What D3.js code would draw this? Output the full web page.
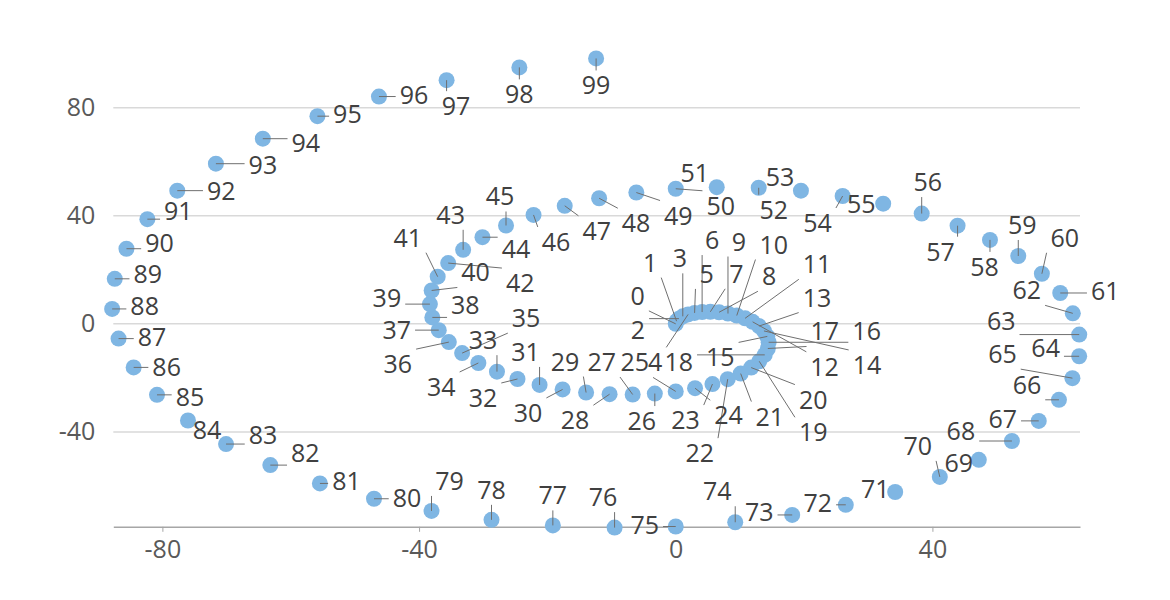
<!DOCTYPE html>
<html><head><meta charset="utf-8">
<script src="https://cdn.jsdelivr.net/npm/d3@7"></script>
<style>body{margin:0;background:#fff}svg{display:block}</style>
</head><body><svg id="c" width="1170" height="600"></svg>
<script>
const xValues = [0, 0.13, 0.50, 1.10, 1.93, 2.94, 4.11, 5.39, 6.75, 8.14,
  9.51, 10.81, 11.98, 12.97, 13.75, 14.27, 14.48, 14.35, 13.87, 13.01,
  11.76, 10.12, 8.10, 5.72, 3.01, 0, -3.26, -6.71, -10.31, -13.97,
  -17.63, -21.22, -24.66, -27.86, -30.76, -33.29, -35.36, -36.93, -37.93, -38.31,
  -38.04, -37.10, -35.46, -33.13, -30.12, -26.45, -22.16, -17.30, -11.94, -6.14,
  0, 6.39, 12.93, 19.51, 26.01, 32.33, 38.33, 43.92, 48.97, 53.38,
  57.06, 59.92, 61.88, 62.88, 62.87, 61.82, 59.72, 56.57, 52.39, 47.23,
  41.15, 34.20, 26.50, 18.15, 9.27, 0, -9.53, -19.15, -28.71, -38.06,
  -47.02, -55.45, -63.18, -70.08, -76.01, -80.84, -84.48, -86.83, -87.83, -87.42,
  -85.60, -82.34, -77.68, -71.66, -64.35, -55.84, -46.25, -35.71, -24.37, -12.41];
const yValues = [0, 0.99, 1.94, 2.79, 3.51, 4.05, 4.37, 4.46, 4.29, 3.83,
  3.09, 2.06, 0.75, -0.82, -2.62, -4.64, -6.81, -9.11, -11.47, -13.85,
  -16.18, -18.40, -20.46, -22.28, -23.81, -25, -25.79, -26.15, -26.03, -25.41,
  -24.27, -22.60, -20.40, -17.68, -14.48, -10.82, -6.75, -2.32, 2.39, 7.31,
  12.36, 17.46, 22.50, 27.41, 32.07, 36.41, 40.31, 43.70, 46.49, 48.61,
  50, 50.60, 50.37, 49.28, 47.32, 44.50, 40.82, 36.33, 31.08, 25.12,
  18.54, 11.43, 3.89, -3.96, -11.99, -20.09, -28.10, -35.90, -43.35, -50.30,
  -56.63, -62.22, -66.96, -70.71, -73.42, -75, -75.40, -74.58, -72.52, -69.23,
  -64.72, -59.05, -52.27, -44.48, -35.77, -26.27, -16.11, -5.46, 5.53, 16.68,
  27.81, 38.75, 49.30, 59.28, 68.53, 76.86, 84.13, 90.19, 94.92, 98.22];
const pointLabels = ["0","1","2","3","4","5","6","7","8","9",
  "10","11","12","13","14","15","16","17","18","19",
  "20","21","22","23","24","25","26","27","28","29",
  "30","31","32","33","34","35","36","37","38","39",
  "40","41","42","43","44","45","46","47","48","49",
  "50","51","52","53","54","55","56","57","58","59",
  "60","61","62","63","64","65","66","67","68","69",
  "70","71","72","73","74","75","76","77","78","79",
  "80","81","82","83","84","85","86","87","88","89",
  "90","91","92","93","94","95","96","97","98","99"];
const xTicks = [-80, -40, 0, 40];
const yTicks = [-40, 0, 40, 80];

// label placement (pixel offsets of each label centre from its marker)
const labelOffsets = [
  [-38,-28],[-26.5,-58.6],[-41,11],[-3,-58],[-33,48],[12,-39],[10,-72],[26,-38],[50,-36],[11,-72],
  [37,-71],[72,-54],[72,45],[58,-28.5],[103,34],[-47,21],[98,-11],[57,-17],[-86,7],[54,71],
  [62,32],[29,43],[-28,74],[-27,36],[33.5,27],[-41,-29],[-13,27.5],[-31,-32.5],[-34.5,26],[-21,-31],
  [-34.5,23.5],[-14,-33],[-34.5,19],[-14,-31.5],[-37,24],[64,-35],[-51,22],[-42,0],[33,-12],[-43,-6],
  [44,-18],[-30,-39],[72,20],[-12.5,-35],[33.5,12],[-6,-29],[22.5,27],[32,25],[37,25],[42,23],
  [45,17],[-22,-14.5],[15,22],[-21,-14],[-25,27],[-22,0],[6,-31.5],[-17,26],[-5.5,27],[4,-31],
  [23,-36],[45,-1.5],[-46,-23],[-78,-13.5],[-33.5,-8],[-70,-24],[-32,-15],[-36,-2],[-51,-10.5],[-20,3],
  [-22,-31],[-20,-2.5],[-28,-2],[-33,-2.5],[-18,-31],[-31,-2],[-11.5,-30.5],[0,-30],[0,-30],[18,-30],
  [33,-1],[26.5,-2],[35,-12],[37,-9.5],[19,9],[33,2],[33,0],[33.5,-2],[32.5,-3],[33,-4.5],
  [33,-5.5],[31,-8],[44,0],[47,1.5],[43,4.5],[30,-2],[35,-2],[9.5,26],[0,27],[0,27]];

const FONT = "'Open Sans', 'Noto Sans', sans-serif";
const FS = 25;
const svg = d3.select('#c');
const x = d3.scaleLinear().domain([-87.65, 63]).range([113.3, 1080]);
const y = d3.scaleLinear().domain([-75.1, 80]).range([526.8, 107.7]);

// gridlines
svg.append('g').selectAll('line').data(yTicks).join('line')
  .attr('x1', x.range()[0]).attr('x2', x.range()[1])
  .attr('y1', d => y(d)).attr('y2', d => y(d))
  .attr('stroke', '#d9d9d9').attr('stroke-width', 1.5);

// x axis
const gx = svg.append('g').attr('transform', `translate(0,${y.range()[0]})`)
  .call(d3.axisBottom(x).tickValues(xTicks).tickSize(5).tickSizeOuter(0).tickPadding(8).tickFormat(d => String(d)));
gx.select('.domain').attr('stroke', '#a6a6a6').attr('stroke-width', 1.5);
gx.selectAll('.tick line').attr('stroke', '#a6a6a6');
gx.selectAll('text').attr('fill', '#595959').style('font-family', FONT).style('font-size', FS + 'px');

// y axis
const gy = svg.append('g').attr('transform', `translate(${x.range()[0]},0)`)
  .call(d3.axisLeft(y).tickValues(yTicks).tickSize(0).tickPadding(18).tickFormat(d => String(d)));
gy.select('.domain').remove();
gy.selectAll('text').attr('fill', '#595959').style('font-family', FONT).style('font-size', FS + 'px');

// markers
const pts = xValues.map((v, i) => ({i, px: x(v), py: y(yValues[i]), label: pointLabels[i]}));
svg.append('g').selectAll('circle').data(pts).join('circle')
  .attr('cx', d => d.px).attr('cy', d => d.py).attr('r', 8)
  .attr('fill', '#7fb6e3');

// labels + leader lines
const gLines = svg.append('g');
const gLabels = svg.append('g');
pts.forEach(d => {
  const [dx, dy] = labelOffsets[d.i];
  const cx = d.px + dx, cy = d.py + dy;
  const t = gLabels.append('text')
    .attr('x', cx).attr('y', cy).attr('dy', '0.36em')
    .attr('text-anchor', 'middle')
    .attr('fill', '#404040')
    .style('font-family', FONT).style('font-size', FS + 'px')
    .text(d.label);
  const w = t.node().getComputedTextLength();
  const padX = 4, padY = 6, h = 18;
  const x0 = cx - w / 2 - padX, x1 = cx + w / 2 + padX;
  const y0 = cy - h / 2 - padY, y1 = cy + h / 2 + padY;
  const nx = Math.max(x0, Math.min(x1, d.px));
  const ny = Math.max(y0, Math.min(y1, d.py));
  const dist = Math.hypot(nx - d.px, ny - d.py);
  if (dist > 6) {
    gLines.append('line')
      .attr('x1', d.px).attr('y1', d.py).attr('x2', nx).attr('y2', ny)
      .attr('stroke', '#6f6f6f').attr('stroke-width', 1);
  }
});
</script>
</body></html>
